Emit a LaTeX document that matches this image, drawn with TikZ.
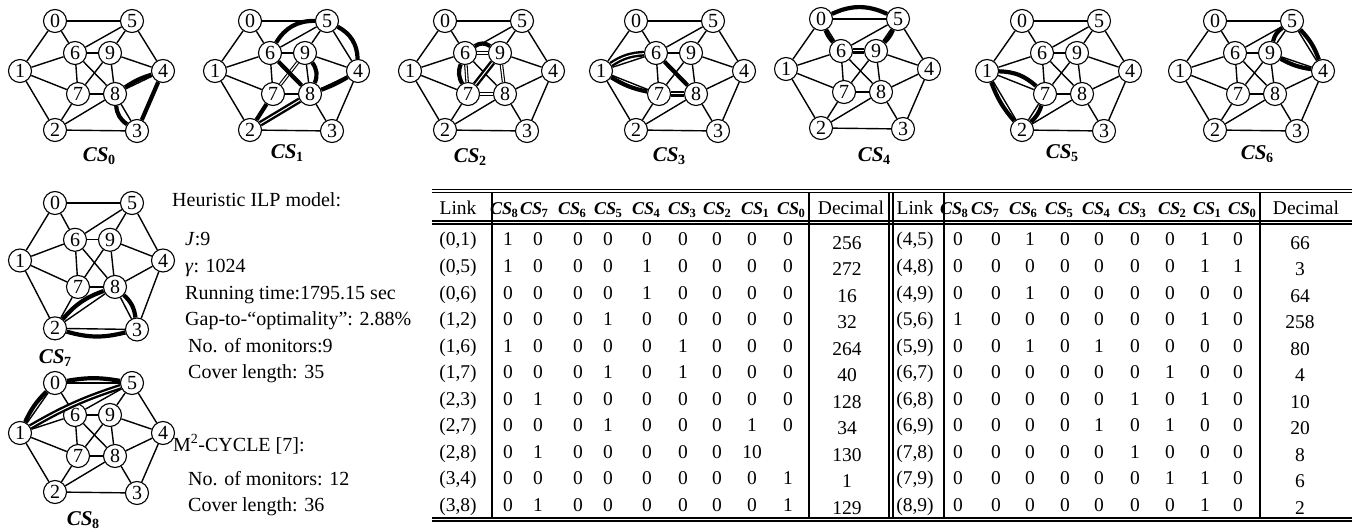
\documentclass[tikz,border=0pt]{standalone}
\usepackage{fontspec}
\setmainfont{Liberation Serif}
\usetikzlibrary{calc}
\tikzset{
 gnode/.style={circle,draw,line width=1.1pt,fill=white,minimum size=23pt,inner sep=0pt,font=\fontsize{20}{20}\selectfont},
 gedge/.style={line width=1.4pt},
 cse/.style={line width=4.2pt},
 cseD/.style={line width=1.1pt,double=white,double distance=1.3pt},
 cseDD/.style={line width=2.4pt,double=white,double distance=1pt},
 cslab/.style={font=\fontsize{21}{21}\selectfont,inner sep=0pt},
 txt/.style={anchor=base west,font=\fontsize{20}{20}\selectfont,inner sep=0pt},
 cell/.style={anchor=base,font=\fontsize{19.5}{19.5}\selectfont,inner sep=0pt},
 hdr/.style={anchor=base,font=\fontsize{18}{18}\selectfont,inner sep=0pt},
 hrule/.style={line width=1.2pt},
 vrule/.style={line width=1.6pt},
}
\newcommand{\csl}[1]{\textbf{\textit{CS}}\kern-0.3pt\raisebox{-0.3ex}{\textbf{\fontsize{14}{14}\selectfont #1}}}
\newcommand{\cslh}[1]{\textbf{\textit{CS}}\kern-0.5pt\raisebox{-0.3ex}{\textbf{\fontsize{12.5}{12.5}\selectfont #1}}}
% #1 prefix, #2,#3 node-0 position, #4 index, #5 yscale, #6,#7 label position
\newcommand{\petgraph}[7]{%
 \begin{scope}[shift={(#2,#3)},yscale=#5]
  \node[gnode] (#1-0) at (0,0) {0};
  \node[gnode] (#1-5) at (77,0) {5};
  \node[gnode] (#1-1) at (-35,50) {1};
  \node[gnode] (#1-4) at (108,50) {4};
  \node[gnode] (#1-2) at (0,109) {2};
  \node[gnode] (#1-3) at (82,110) {3};
  \node[gnode] (#1-6) at (20,32) {6};
  \node[gnode] (#1-9) at (55,32) {9};
  \node[gnode] (#1-7) at (23,73) {7};
  \node[gnode] (#1-8) at (60,73) {8};
 \end{scope}
 \node[cslab] (#1-lab) at (#6,#7) {\csl{#4}};
 \foreach \ea/\eb in {0/1,0/5,0/6,1/2,1/6,1/7,2/3,2/7,2/8,3/4,3/8,4/5,4/8,4/9,5/6,5/9,6/7,6/8,6/9,7/8,7/9,8/9}{
  \draw[gedge] (#1-\ea) -- (#1-\eb);}
}
\begin{document}
\begin{tikzpicture}[x=1pt,y=-1pt]
\useasboundingbox (0,0) rectangle (1364,529);
\fill[white] (0,0) rectangle (1364,529);

\petgraph{a}{55}{21}{0}{1}{99}{156}
\petgraph{b}{250}{21}{1}{1}{287}{153}
\petgraph{c}{445}{21}{2}{1}{470}{157}
\petgraph{d}{636}{21}{3}{1}{669}{156}
\petgraph{e}{821}{19}{4}{1}{874}{156}
\petgraph{f}{1022}{21}{5}{1}{1062}{153}
\petgraph{g}{1215}{21}{6}{1}{1257}{154}
\petgraph{h}{55}{203}{7}{1.15}{55}{358}
\petgraph{i}{55}{383}{8}{1}{83}{520}

% CS0
\draw[cse] (a-4) to[bend right=8] (a-8);
\draw[cse] (a-8) to[bend right=25] (a-3);
\draw[cse] (a-3) -- (a-4);
% CS1
\draw[cse] (b-6) to[bend left=30] (b-5);
\draw[cse] (b-5) to[bend left=30] (b-4);
\draw[cse] (b-4) to[bend left=5] (b-8);
\draw[cseDD] (b-8) -- (b-2);
\draw[cse] (b-2) -- (b-7);
\draw[cseD] (b-7) -- (b-9);
\draw[cse] (b-9) to[bend left=30] (b-8);
\draw[cse] (b-6) -- (b-8);
% CS2
\draw[cseD] (c-6) -- (c-9);
\draw[cseD] (c-9) -- (c-8);
\draw[cseD] (c-7) -- (c-8);
\draw[cseD] (c-6) -- (c-7);
\draw[cse] (c-6) to[bend right=25] (c-7);
\draw[cse] (c-6) to[bend left=35] (c-9);
\draw[cseDD] (c-7) -- (c-9);
% CS3
\draw[cseDD] (d-1) to[bend left=15] (d-6);
\draw[cse] (d-1) to[bend right=10] (d-7);
\draw[cse] (d-6) -- (d-8);
\draw[cseDD] (d-7) -- (d-8);
% CS4
\draw[cse] (e-0) to[bend left=25] (e-5);
\draw[cse] (e-0) to[bend right=10] (e-6);
\draw[cse] (e-5) to[bend left=10] (e-9);
\draw[cseDD] (e-6) -- (e-9);
% CS5
\draw[cse] (f-1) to[bend right=10] (f-2);
\draw[cse] (f-1) to[bend left=20] (f-7);
\draw[cse] (f-2) to[bend right=15] (f-7);
% CS6
\draw[cse] (g-5) to[bend left=12] (g-4);
\draw[cse] (g-9) to[bend right=10] (g-4);
\draw[cse] (g-5) to[bend right=20] (g-9);
% CS7
\draw[cse] (h-2) to[bend right=15] (h-3);
\draw[cse] (h-2) to[bend left=15] (h-8);
\draw[cse] (h-8) to[bend left=20] (h-3);
% CS8
\draw[cse] (i-0) to[bend right=10] (i-1);
\draw[cse] (i-0) to[bend left=10] (i-5);
\draw[cseDD] (i-1) to[bend left=6] (i-5);

% texts
\node[txt] (t1) at (172,207) {Heuristic ILP model:};
\node[txt] (t2) at (185,246) {\textit{J}:9};
\node[txt] (t3) at (185,272) {\textit{γ}: 1024};
\node[txt] (t4) at (185,299) {Running time:1795.15 sec};
\node[txt] (t5) at (185,325) {Gap-to-``optimality'': 2.88\%};
\node[txt] (t6) at (188,352) {No. of monitors:9};
\node[txt] (t7) at (188,378) {Cover length: 35};
\node[txt] (m1) at (173,451) {M\textsuperscript{2}-CYCLE [7]:};
\node[txt] (m2) at (188,485) {No. of monitors: 12};
\node[txt] (m3) at (188,511) {Cover length: 36};

% table rules
\draw[hrule] (432,189.5) -- (1352,189.5);
\draw[hrule] (432,192.5) -- (1352,192.5);
\draw[hrule] (432,221) -- (1352,221);
\draw[hrule] (432,224) -- (1352,224);
\draw[hrule] (432,518) -- (1352,518);
\draw[hrule] (432,521) -- (1352,521);
\foreach \vx in {492,809,889,893,944,1260}{\draw[vrule] (\vx,192.5) -- (\vx,518);}

% headers
\node[cell] (LH) at (458,215) {Link};
\foreach \s/\hx in {8/504,7/534,6/572,5/608,4/646,3/682,2/717,1/755,0/791}{\node[hdr] (LH\s) at (\hx,215) {\cslh{\s}};}
\node[cell] (LHD) at (851,215) {Decimal};
\node[cell] (RH) at (915,215) {Link};
\foreach \s/\hx in {8/954,7/985,6/1023,5/1059,4/1096,3/1132,2/1172,1/1207,0/1242}{\node[hdr] (RH\s) at (\hx,215) {\cslh{\s}};}
\node[cell] (RHD) at (1306,215) {Decimal};

\def\colsL{{508,538,578,608,647,683,717,752,788}}
\def\colsR{{958,996,1030,1065,1099,1135,1170,1205,1238}}
\foreach \lnk/\vals/\dec [count=\ri from 0] in {
 {(0,1)}/{1,0,0,0,0,0,0,0,0}/256,
 {(0,5)}/{1,0,0,0,1,0,0,0,0}/272,
 {(0,6)}/{0,0,0,0,1,0,0,0,0}/16,
 {(1,2)}/{0,0,0,1,0,0,0,0,0}/32,
 {(1,6)}/{1,0,0,0,0,1,0,0,0}/264,
 {(1,7)}/{0,0,0,1,0,1,0,0,0}/40,
 {(2,3)}/{0,1,0,0,0,0,0,0,0}/128,
 {(2,7)}/{0,0,0,1,0,0,0,1,0}/34,
 {(2,8)}/{0,1,0,0,0,0,0,10,{}}/130,
 {(3,4)}/{0,0,0,0,0,0,0,0,1}/1,
 {(3,8)}/{0,1,0,0,0,0,0,0,1}/129}{
 \pgfmathsetmacro{\yy}{246+26.5*\ri}
 \node[cell] (L\ri) at (458,\yy) {\lnk};
 \foreach \v [count=\ci from 0] in \vals {
   \pgfmathsetmacro{\xx}{\colsL[\ci]}
   \node[cell] (L\ri-\ci) at (\xx,\yy) {\v};
 }
 \node[cell] (LD\ri) at (847,\yy+3) {\dec};
}
\foreach \lnk/\vals/\dec [count=\ri from 0] in {
 {(4,5)}/{0,0,1,0,0,0,0,1,0}/66,
 {(4,8)}/{0,0,0,0,0,0,0,1,1}/3,
 {(4,9)}/{0,0,1,0,0,0,0,0,0}/64,
 {(5,6)}/{1,0,0,0,0,0,0,1,0}/258,
 {(5,9)}/{0,0,1,0,1,0,0,0,0}/80,
 {(6,7)}/{0,0,0,0,0,0,1,0,0}/4,
 {(6,8)}/{0,0,0,0,0,1,0,1,0}/10,
 {(6,9)}/{0,0,0,0,1,0,1,0,0}/20,
 {(7,8)}/{0,0,0,0,0,1,0,0,0}/8,
 {(7,9)}/{0,0,0,0,0,0,1,1,0}/6,
 {(8,9)}/{0,0,0,0,0,0,0,1,0}/2}{
 \pgfmathsetmacro{\yy}{246+26.5*\ri}
 \node[cell] (R\ri) at (915,\yy) {\lnk};
 \foreach \v [count=\ci from 0] in \vals {
   \pgfmathsetmacro{\xx}{\colsR[\ci]}
   \node[cell] (R\ri-\ci) at (\xx,\yy) {\v};
 }
 \node[cell] (RD\ri) at (1300,\yy+3) {\dec};
}
\end{tikzpicture}
\end{document}
